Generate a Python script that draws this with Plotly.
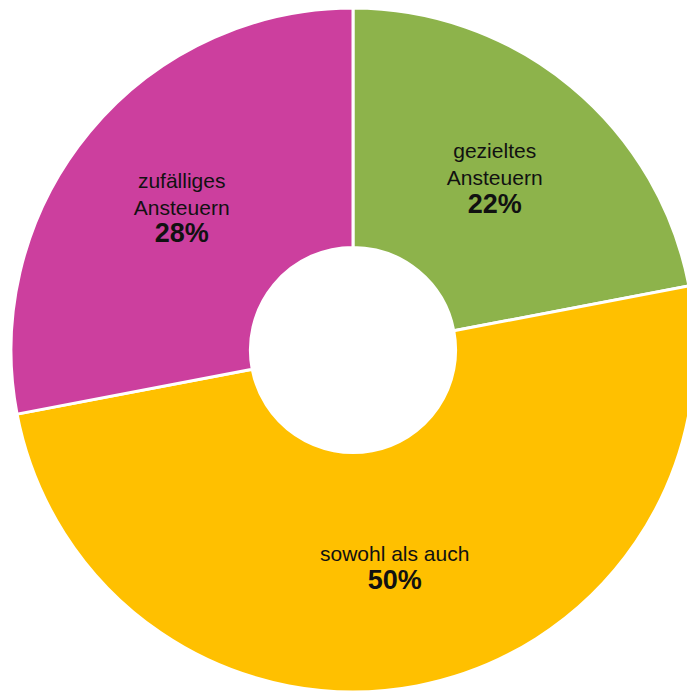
import plotly.graph_objects as go

labels = ["gezieltes<br>Ansteuern", "sowohl als auch", "zufälliges<br>Ansteuern"]
values = [22, 50, 28]
colors = ["#8DB34B", "#FFC000", "#CC3F9E"]

texts = [f"{l}<br><span style='font-size:27px'><b>{v}%</b></span>" for l, v in zip(labels, values)]

fig = go.Figure(go.Pie(
    labels=labels,
    values=values,
    text=texts,
    texttemplate="%{text}",
    textposition="inside",
    insidetextorientation="horizontal",
    hole=0.3,
    sort=False,
    direction="clockwise",
    rotation=0,
    marker=dict(colors=colors, line=dict(color="white", width=3)),
    textfont=dict(family="Liberation Sans, Arial, sans-serif", size=21, color="#111111"),
    domain=dict(x=[0.0, 0.9928], y=[0.0172, 1.0]),
    showlegend=False,
    hoverinfo="label+percent",
))

fig.update_layout(
    width=695, height=696,
    margin=dict(l=0, r=0, t=0, b=0),
    paper_bgcolor="white",
    plot_bgcolor="white",
    showlegend=False,
)

fig.write_html("out.html")
